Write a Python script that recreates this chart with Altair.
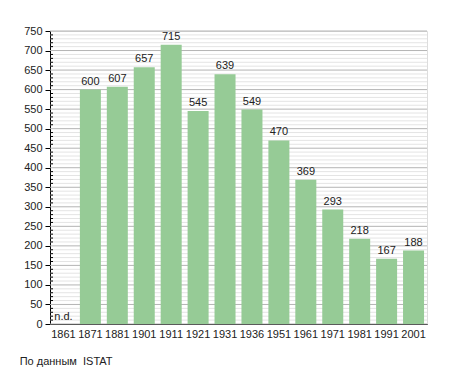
import altair as alt
import pandas as pd

years = ["1861", "1871", "1881", "1901", "1911", "1921", "1931", "1936",
         "1951", "1961", "1971", "1981", "1991", "2001"]
values = [None, 600, 607, 657, 715, 545, 639, 549, 470, 369, 293, 218, 167, 188]
minor_ticks = list(range(0, 751, 10))
major_ticks = list(range(0, 751, 50))

df = pd.DataFrame({"year": years, "value": values})
bars_df = df.dropna()
nd_df = pd.DataFrame({"year": ["1861"], "value": [0], "label": ["n.d."]})
minor_df = pd.DataFrame({"v": [t for t in minor_ticks if t % 50 != 0]})
major_df = pd.DataFrame({"v": major_ticks})

W, H = 377, 293
FONT = "Liberation Sans"

xaxis = alt.Axis(labelAngle=0, ticks=False, domainColor="#000",
                 labelFontSize=11, labelColor="#222", labelPadding=4,
                 labelFont=FONT)
yaxis = alt.Axis(values=major_ticks, grid=False, domainColor="#000",
                 tickColor="#000", tickSize=5, labelFontSize=11,
                 labelColor="#222", labelPadding=3, labelFont=FONT,
                 labelOverlap=False, labelFlush=False, labelBound=False,
                 title=None)
xscale = alt.Scale(domain=years, paddingInner=0.22, paddingOuter=0.11)
yscale = alt.Scale(domain=[0, 750], nice=False)


def Y(field):
    return alt.Y(field, scale=yscale, axis=yaxis, title=None)


def X():
    return alt.X("year:N", sort=years, scale=xscale, axis=xaxis, title=None)


minor_grid = alt.Chart(minor_df).mark_rule(color="#e4e4e4", strokeWidth=1).encode(
    y=Y("v:Q"), x=alt.value(0), x2=alt.value(W))

major_grid = alt.Chart(major_df).mark_rule(color="#b4b4b4", strokeWidth=1).encode(
    y=Y("v:Q"), x=alt.value(0), x2=alt.value(W))

minor_marks = alt.Chart(minor_df).mark_rule(color="#000", strokeWidth=1).encode(
    y=Y("v:Q"), x=alt.value(0), x2=alt.value(3))

bars = alt.Chart(bars_df).mark_bar(color="#96cb96").encode(x=X(), y=Y("value:Q"))

labels = alt.Chart(bars_df).mark_text(dy=-8, fontSize=11, color="#222", font=FONT).encode(
    x=X(), y=Y("value:Q"), text=alt.Text("value:Q"))

nd = alt.Chart(nd_df).mark_text(dy=-7, fontSize=11, color="#222", font=FONT).encode(
    x=X(), y=Y("value:Q"), text="label:N")

chart = alt.layer(minor_grid, major_grid, minor_marks, bars, labels, nd).properties(
    width=W, height=H,
    title=alt.TitleParams("По данным\u00a0 ISTAT", orient="bottom", anchor="start",
                          fontSize=11, fontWeight="normal", color="#222",
                          font=FONT, dx=-4, offset=17),
    autosize=alt.AutoSizeParams(type="none"),
    padding={"left": 42, "top": 23, "right": 20, "bottom": 48},
).configure_view(stroke=None).configure(background="white")

chart.save("out.html", embed_options={"renderer": "svg", "actions": False})
